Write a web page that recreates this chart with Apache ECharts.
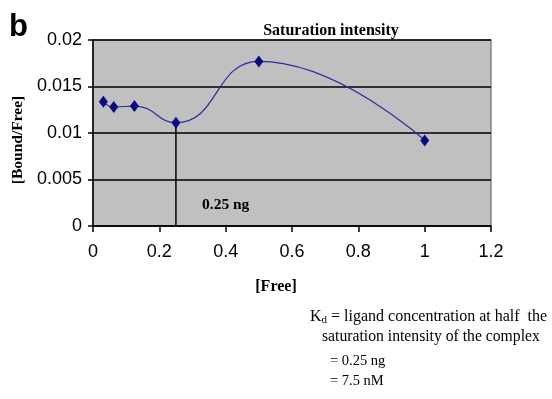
<!DOCTYPE html>
<html><head><meta charset="utf-8">
<script src="https://cdn.jsdelivr.net/npm/echarts@6/dist/echarts.min.js"></script>
<style>html,body{margin:0;padding:0;background:#fff}#c{width:552px;height:399px}</style>
</head><body><div id="c"></div>
<script>
var freeVals = [0.03125, 0.0625, 0.125, 0.25, 0.5, 1.0];
var boundFree = [0.01335, 0.0128, 0.0129, 0.0111, 0.0177, 0.0092];
var kdX = 0.25;
var xTicks = [0, 0.2, 0.4, 0.6, 0.8, 1, 1.2];
var yTicks = [0, 0.005, 0.01, 0.015, 0.02];

var pts = freeVals.map(function(x,i){return [x, boundFree[i]];});
var kdIdx = freeVals.indexOf(kdX);
var chart = echarts.init(document.getElementById('c'));
var serif = '"Liberation Serif","Times New Roman",serif';
var sans = '"Liberation Sans",Arial,sans-serif';
chart.setOption({
  animation:false,
  backgroundColor:'#fff',
  title:{text:'Saturation intensity', left:326, top:18, textAlign:'center',
    textStyle:{fontFamily:serif, fontWeight:'bold', fontSize:16, color:'#000'}},
  grid:{left:93, right:61, top:40, bottom:173, show:true, backgroundColor:'#c0c0c0', borderColor:'#858585', borderWidth:1.5},
  xAxis:{type:'value', min:xTicks[0], max:xTicks[xTicks.length-1], interval:0.2,
    axisLine:{onZero:false, lineStyle:{color:'#000', width:1.5}},
    axisTick:{show:true, length:6, lineStyle:{color:'#000', width:1.5}},
    splitLine:{show:false},
    axisLabel:{fontFamily:sans, fontSize:18, color:'#000', margin:17,
      formatter:function(v){return String(Math.round(v*10)/10);}}},
  yAxis:{type:'value', min:yTicks[0], max:yTicks[yTicks.length-1], interval:0.005,
    axisLine:{show:true, lineStyle:{color:'#000', width:1.5}},
    axisTick:{show:true, length:5, lineStyle:{color:'#000', width:1.5}},
    splitLine:{show:true, lineStyle:{color:'#000', width:1.5}},
    axisLabel:{fontFamily:sans, fontSize:18, color:'#000', margin:11,
      formatter:function(v){return String(Math.round(v*1000)/1000);}}},
  series:[
    {type:'line', data:[[kdX,0],[kdX,boundFree[kdIdx]]], symbol:'none', lineStyle:{color:'#000', width:1.5}, z:3},
    {type:'line', data:pts, smooth:0.5, symbol:'diamond', symbolSize:[9,12],
      itemStyle:{color:'#0a0a80'}, lineStyle:{color:'#2a2aa0', width:1.2}, z:4}
  ],
  graphic:[
    {type:'text', left:9, top:12, style:{text:'b', fontFamily:sans, fontWeight:'bold', fontSize:31, fill:'#000'}},
    {type:'text', x:18, y:140, rotation:Math.PI/2, style:{text:'[Bound/Free]', fontFamily:serif, fontWeight:'bold', fontSize:15.5, fill:'#000', align:'center', verticalAlign:'middle'}},
    {type:'text', x:276, y:287, style:{text:'[Free]', fontFamily:serif, fontWeight:'bold', fontSize:16, fill:'#000', align:'center', verticalAlign:'middle'}},
    {type:'text', x:202, y:205, style:{text:'0.25 ng', fontFamily:serif, fontWeight:'bold', fontSize:15.5, fill:'#000', verticalAlign:'middle'}},
    {type:'text', x:310, y:317, style:{rich:{n:{fontFamily:serif,fontSize:16,fill:'#000'},s:{fontFamily:serif,fontSize:11,fill:'#000',padding:[6,0,0,0]}}, text:'{n|K}{s|d}{n| = ligand concentration at half  the}', verticalAlign:'middle'}},
    {type:'text', x:322, y:337, style:{text:'saturation intensity of the complex', fontFamily:serif, fontSize:15.7, fill:'#000', verticalAlign:'middle'}},
    {type:'text', x:330, y:361, style:{text:'= 0.25 ng', fontFamily:serif, fontSize:14.5, fill:'#000', verticalAlign:'middle'}},
    {type:'text', x:330, y:381, style:{text:'= 7.5 nM', fontFamily:serif, fontSize:14.5, fill:'#000', verticalAlign:'middle'}}
  ]
});
</script></body></html>
